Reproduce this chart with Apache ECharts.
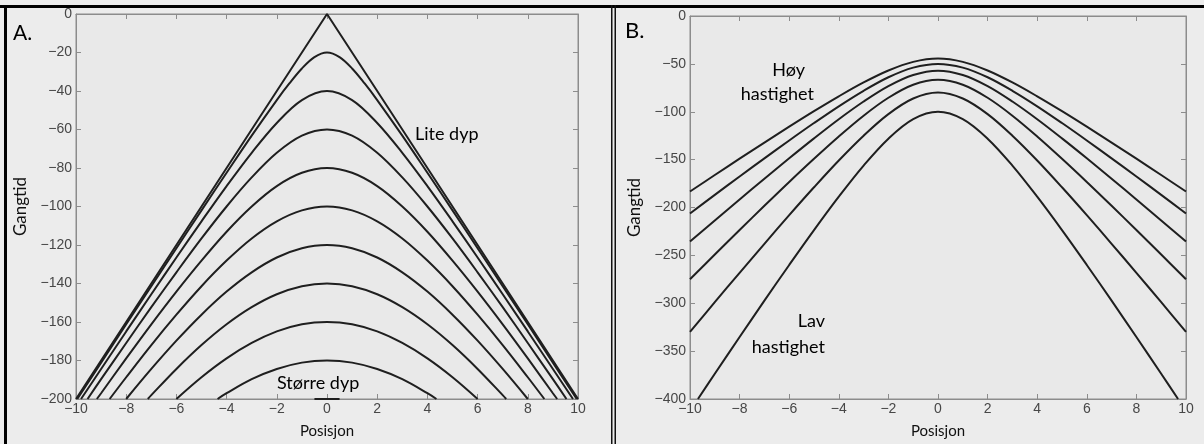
<!DOCTYPE html>
<html>
<head>
<meta charset="utf-8">
<title>Gangtid – Posisjon</title>
<script src="https://cdn.jsdelivr.net/npm/echarts@6/dist/echarts.min.js"></script>
<style>
  html, body { margin: 0; padding: 0; background: #ececec; }
  #chart { width: 1204px; height: 444px; }
</style>
</head>
<body>
<div id="chart"></div>
<script>
// Panel A: reflection hyperbolas for reflectors at increasing depth, [posisjon, gangtid]
const curveA0 = [[-10, -200], [0, 0], [10, -200]];
const curveA20 = [[-9.95, -200], [-9, -181.1], [-8, -161.2], [-7, -141.4], [-6, -121.7], [-5, -102.0], [-4, -82.5], [-3, -63.2], [-2, -44.7], [-1.5, -36.1], [-1, -28.3], [-0.5, -22.4], [0, -20], [0.5, -22.4], [1, -28.3], [1.5, -36.1], [2, -44.7], [3, -63.2], [4, -82.5], [5, -102.0], [6, -121.7], [7, -141.4], [8, -161.2], [9, -181.1], [9.95, -200]];
const curveA40 = [[-9.8, -200], [-9, -184.4], [-8, -164.9], [-7, -145.6], [-6, -126.5], [-5, -107.7], [-4, -89.4], [-3, -72.1], [-2, -56.6], [-1, -44.7], [0, -40], [1, -44.7], [2, -56.6], [3, -72.1], [4, -89.4], [5, -107.7], [6, -126.5], [7, -145.6], [8, -164.9], [9, -184.4], [9.8, -200]];
const curveA60 = [[-9.54, -200], [-9, -189.7], [-8, -170.9], [-7, -152.3], [-6, -134.2], [-5, -116.6], [-4, -100], [-3, -84.9], [-2, -72.1], [-1, -63.2], [0, -60], [1, -63.2], [2, -72.1], [3, -84.9], [4, -100], [5, -116.6], [6, -134.2], [7, -152.3], [8, -170.9], [9, -189.7], [9.54, -200]];
const curveA80 = [[-9.17, -200], [-9, -197.0], [-8, -178.9], [-7, -161.2], [-6, -144.2], [-5, -128.1], [-4, -113.1], [-3, -100], [-2, -89.4], [-1, -82.5], [0, -80], [1, -82.5], [2, -89.4], [3, -100], [4, -113.1], [5, -128.1], [6, -144.2], [7, -161.2], [8, -178.9], [9, -197.0], [9.17, -200]];
const curveA100 = [[-8.66, -200], [-8, -188.7], [-7, -172.0], [-6, -156.2], [-5, -141.4], [-4, -128.1], [-3, -116.6], [-2, -107.7], [-1, -102.0], [0, -100], [1, -102.0], [2, -107.7], [3, -116.6], [4, -128.1], [5, -141.4], [6, -156.2], [7, -172.0], [8, -188.7], [8.66, -200]];
const curveA120 = [[-8, -200], [-7, -184.4], [-6, -169.7], [-5, -156.2], [-4, -144.2], [-3, -134.2], [-2, -126.5], [-1, -121.7], [0, -120], [1, -121.7], [2, -126.5], [3, -134.2], [4, -144.2], [5, -156.2], [6, -169.7], [7, -184.4], [8, -200]];
const curveA140 = [[-7.14, -200], [-7, -198.0], [-6, -184.4], [-5, -172.0], [-4, -161.2], [-3, -152.3], [-2, -145.6], [-1, -141.4], [0, -140], [1, -141.4], [2, -145.6], [3, -152.3], [4, -161.2], [5, -172.0], [6, -184.4], [7, -198.0], [7.14, -200]];
const curveA160 = [[-6, -200], [-5, -188.7], [-4, -178.9], [-3, -170.9], [-2, -164.9], [-1, -161.2], [0, -160], [1, -161.2], [2, -164.9], [3, -170.9], [4, -178.9], [5, -188.7], [6, -200]];
const curveA180 = [[-4.36, -200], [-4, -197.0], [-3, -189.7], [-2, -184.4], [-1, -181.1], [0, -180], [1, -181.1], [2, -184.4], [3, -189.7], [4, -197.0], [4.36, -200]];
const curveA200 = [[-0.5, -200], [0, -200], [0.5, -200]];

// Panel B: one reflector seen with different velocities, gangtid at each posisjon
const posB = [-10, -9, -8, -7, -6, -5, -4, -3, -2, -1, 0, 1, 2, 3, 4, 5, 6, 7, 8, 9, 10];
const tidB1 = [-183.3, -166.1, -149.0, -132.2, -115.6, -99.4, -83.9, -69.4, -56.9, -47.9, -44.4, -47.9, -56.9, -69.4, -83.9, -99.4, -115.6, -132.2, -149.0, -166.1, -183.3];
const tidB2 = [-206.2, -186.8, -167.6, -148.7, -130.0, -111.8, -94.3, -78.1, -64.0, -53.9, -50.0, -53.9, -64.0, -78.1, -94.3, -111.8, -130.0, -148.7, -167.6, -186.8, -206.2];
const tidB3 = [-235.6, -213.5, -191.6, -169.9, -148.6, -127.8, -107.8, -89.3, -73.2, -61.6, -57.1, -61.6, -73.2, -89.3, -107.8, -127.8, -148.6, -169.9, -191.6, -213.5, -235.6];
const tidB4 = [-274.9, -249.1, -223.5, -198.2, -173.3, -149.1, -125.8, -104.1, -85.4, -71.8, -66.7, -71.8, -85.4, -104.1, -125.8, -149.1, -173.3, -198.2, -223.5, -249.1, -274.9];
const tidB5 = [-329.9, -298.9, -268.2, -237.9, -208.0, -178.9, -150.9, -125.0, -102.5, -86.2, -80.0, -86.2, -102.5, -125.0, -150.9, -178.9, -208.0, -237.9, -268.2, -298.9, -329.9];
const curveB6 = [[-9.68, -400], [-9, -373.6], [-8, -335.3], [-7, -297.3], [-6, -260.0], [-5, -223.6], [-4, -188.7], [-3, -156.2], [-2, -128.1], [-1, -107.7], [0, -100], [1, -107.7], [2, -128.1], [3, -156.2], [4, -188.7], [5, -223.6], [6, -260.0], [7, -297.3], [8, -335.3], [9, -373.6], [9.68, -400]];

const curvesA = [curveA0, curveA20, curveA40, curveA60, curveA80, curveA100, curveA120, curveA140, curveA160, curveA180, curveA200];
const curvesB = [tidB1, tidB2, tidB3, tidB4, tidB5].map(t => posB.map((p, i) => [p, t[i]])).concat([curveB6]);

const AXIS_GREY = '#8c8c8c';
const LABEL_GREY = '#474747';
const TICK_FONT = 'Liberation Sans';
const TEXT_FONT = 'Lato';
const LINE_COLOR = '#1f1f1f';

const minus = v => String(v).replace('-', '\u2212');

function xAxisPair(gridIndex) {
  const common = {
    gridIndex, type: 'value', min: -10, max: 10, interval: 2,
    axisLine: { show: true, onZero: false, lineStyle: { color: AXIS_GREY, width: 1 } },
    axisTick: { show: true, inside: true, length: 5, lineStyle: { color: AXIS_GREY } },
    splitLine: { show: false }
  };
  return [
    Object.assign({}, common, {
      position: 'bottom',
      axisLabel: { color: LABEL_GREY, fontFamily: TICK_FONT, fontSize: 14, margin: 3, formatter: minus },
      name: 'Posisjon', nameLocation: 'middle', nameGap: 25,
      nameTextStyle: { color: '#111', fontFamily: TEXT_FONT, fontSize: 15 }
    }),
    Object.assign({}, common, { position: 'top', axisLabel: { show: false } })
  ];
}

function yAxisPair(gridIndex, min, interval) {
  const common = {
    gridIndex, type: 'value', min, max: 0, interval,
    axisLine: { show: true, onZero: false, lineStyle: { color: AXIS_GREY, width: 1 } },
    axisTick: { show: true, inside: true, length: 5, lineStyle: { color: AXIS_GREY } },
    splitLine: { show: false }
  };
  return [
    Object.assign({}, common, {
      position: 'left',
      axisLabel: { color: LABEL_GREY, fontFamily: TICK_FONT, fontSize: 14, margin: 4, formatter: minus },
      name: 'Gangtid', nameLocation: 'middle', nameGap: 47, nameRotate: 90,
      nameTextStyle: { color: '#111', fontFamily: TEXT_FONT, fontSize: 17 }
    }),
    Object.assign({}, common, { position: 'right', axisLabel: { show: false } })
  ];
}

function lineSeries(data, xIdx, yIdx, smooth) {
  return {
    type: 'line', data, xAxisIndex: xIdx, yAxisIndex: yIdx,
    smooth, showSymbol: false, clip: true, silent: true,
    lineStyle: { color: LINE_COLOR, width: 2 }
  };
}

function label(text, x, y, size, align) {
  return {
    type: 'text', x, y, silent: true,
    style: { text, fill: '#000', font: size + 'px ' + TEXT_FONT, textAlign: align || 'left', textVerticalAlign: 'middle' }
  };
}

const chart = echarts.init(document.getElementById('chart'));
chart.setOption({
  animation: false,
  backgroundColor: '#ececec',
  grid: [
    { left: 76, right: 626, top: 14, bottom: 41, show: true, borderColor: AXIS_GREY, borderWidth: 1, backgroundColor: '#e9e9e9' },
    { left: 690, right: 18, top: 16, bottom: 41, show: true, borderColor: AXIS_GREY, borderWidth: 1, backgroundColor: '#e9e9e9' }
  ],
  xAxis: xAxisPair(0).concat(xAxisPair(1)),
  yAxis: yAxisPair(0, -200, 20).concat(yAxisPair(1, -400, 50)),
  series: curvesA.map((c, i) => lineSeries(c, 0, 0, i === 0 ? false : 0.35))
    .concat(curvesB.map(c => lineSeries(c, 2, 2, 0.35))),
  graphic: [
    // frame of the two panels
    { type: 'rect', shape: { x: 0, y: 5, width: 1204, height: 3 }, style: { fill: '#000' }, silent: true },
    { type: 'rect', shape: { x: 4, y: 5, width: 3, height: 439 }, style: { fill: '#000' }, silent: true },
    { type: 'rect', shape: { x: 611, y: 5, width: 1.5, height: 439 }, style: { fill: '#111' }, silent: true },
    { type: 'rect', shape: { x: 614.5, y: 5, width: 1.5, height: 439 }, style: { fill: '#111' }, silent: true },
    label('A.', 13, 33, 21),
    label('B.', 625, 31, 22),
    label('Lite dyp', 415, 134, 18),
    label('Større dyp', 277, 383, 18),
    label('Høy', 805, 70, 18, 'right'),
    label('hastighet', 814, 94, 18, 'right'),
    label('Lav', 825, 321, 18, 'right'),
    label('hastighet', 825, 347, 18, 'right')
  ]
});
</script>
</body>
</html>
